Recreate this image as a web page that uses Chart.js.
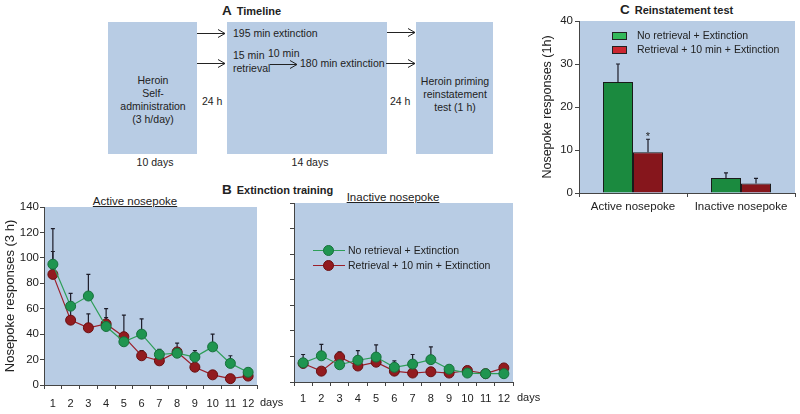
<!DOCTYPE html>
<html>
<head>
<meta charset="utf-8">
<script src="https://cdn.jsdelivr.net/npm/chart.js@4.4.1/dist/chart.umd.min.js"></script>
<style>
  body { margin:0; width:800px; height:414px; background:#fff; position:relative; overflow:hidden;
         font-family:"Liberation Sans", Arial, sans-serif; color:#222; }
  .box { position:absolute; background:#b8cce4; }
  .t { position:absolute; font-size:10.5px; line-height:13px; white-space:nowrap; }
  .c { transform:translateX(-50%); text-align:center; }
  .head { position:absolute; font-weight:bold; font-size:11px; white-space:nowrap; line-height:14px; }
  .head b { font-size:13.5px; margin-right:5px; }
  .sub { position:absolute; font-size:11.5px; text-decoration:underline; white-space:nowrap; transform:translateX(-50%); line-height:13px; }
  .leg { position:absolute; font-size:10.5px; white-space:nowrap; line-height:13px; }
  canvas { position:absolute; }
</style>
</head>
<body>

<!-- A Timeline -->
<div class="head" style="left:222px;top:4px;"><b>A</b>Timeline</div>
<div class="box" style="left:108px;top:22px;width:89px;height:132px;"></div>
<div class="box" style="left:227px;top:22px;width:160px;height:132px;"></div>
<div class="box" style="left:416px;top:22px;width:77px;height:132px;"></div>

<div class="t c" style="left:153px;top:73.5px;">Heroin<br>Self-<br>administration<br>(3 h/day)</div>
<div class="t c" style="left:455px;top:74.5px;">Heroin priming<br>reinstatement<br>test (1 h)</div>
<div class="t" style="left:233px;top:26.5px;">195 min extinction</div>
<div class="t" style="left:233px;top:48.5px;">15 min</div>
<div class="t" style="left:233px;top:61.5px;">retrieval</div>
<div class="t" style="left:268px;top:46.5px;">10 min</div>
<div class="t" style="left:300px;top:57px;">180 min extinction</div>
<div class="t" style="left:202px;top:95px;">24 h</div>
<div class="t" style="left:390px;top:95px;">24 h</div>
<div class="t c" style="left:155px;top:156px;">10 days</div>
<div class="t c" style="left:310px;top:156px;">14 days</div>

<svg width="800" height="414" style="position:absolute;left:0;top:0;pointer-events:none;">
  <g stroke="#222" stroke-width="1" fill="none">
    <path d="M197 33.5H225 M218 29.5L225 33.5L218 37.5"/>
    <path d="M197 63.5H225 M218 59.5L225 63.5L218 67.5"/>
    <path d="M270 64.5H297 M290 60.5L297 64.5L290 68.5"/>
    <path d="M387 32.5H415 M408 28.5L415 32.5L408 36.5"/>
    <path d="M386 63.5H415 M408 59.5L415 63.5L408 67.5"/>
  </g>
</svg>

<!-- B Extinction training -->
<div class="head" style="left:222px;top:183px;"><b>B</b>Extinction training</div>
<div class="sub" style="left:135px;top:195px;">Active nosepoke</div>
<div class="sub" style="left:393px;top:191px;">Inactive nosepoke</div>
<canvas id="active" width="285" height="219" style="left:0;top:195px;width:285px;height:219px;"></canvas>
<canvas id="inactive" width="290" height="223" style="left:250px;top:191px;width:290px;height:223px;"></canvas>
<div class="t" style="left:260px;top:396px;font-size:11px;">days</div>
<div class="t" style="left:517px;top:391px;font-size:11px;">days</div>

<div style="position:absolute;left:313px;top:250px;width:32px;height:1px;background:#2e9e58;"></div>
<div style="position:absolute;left:323px;top:245px;width:9px;height:9px;border-radius:50%;background:#1f9550;border:1px solid #17703c;"></div>
<div class="leg" style="left:348px;top:243.5px;">No retrieval + Extinction</div>
<div style="position:absolute;left:313px;top:265px;width:32px;height:1px;background:#9b1f2a;"></div>
<div style="position:absolute;left:323px;top:260px;width:9px;height:9px;border-radius:50%;background:#921b1f;border:1px solid #6a1012;"></div>
<div class="leg" style="left:348px;top:258.5px;">Retrieval + 10 min + Extinction</div>

<!-- C Reinstatement test -->
<div class="head" style="left:620px;top:3px;"><b>C</b>Reinstatement test</div>
<canvas id="reinst" width="270" height="220" style="left:530px;top:0;width:270px;height:220px;"></canvas>
<div style="position:absolute;left:612px;top:31.5px;width:13px;height:6px;background:#32b85a;border:1px solid #222;"></div>
<div class="leg" style="left:637px;top:28.5px;">No retrieval + Extinction</div>
<div style="position:absolute;left:612px;top:46px;width:13px;height:6px;background:#cc2630;border:1px solid #222;"></div>
<div class="leg" style="left:637px;top:43px;">Retrieval + 10 min + Extinction</div>

<script>
// extinction days
const days = ['1', '2', '3', '4', '5', '6', '7', '8', '9', '10', '11', '12'];

// active nosepoke (mean, SEM)
const activeNoRet = [95, 62, 70, 46, 34, 40, 24, 25, 22, 30, 17, 10];
const activeNoRetSem = [28, 10, 17, 14, 21, 12, 4, 3, 5, 10, 6, 2.5];
const activeRet = [87, 51, 45, 48, 38, 23, 19, 26, 14, 8, 5, 7];
const activeRetSem = [18, 14, 11, 5, 3, 4, 2, 7, 2, 1, 1, 1];

// inactive nosepoke (mean, SEM)
const inactiveNoRet = [15, 20.5, 13.5, 17, 19.5, 11.5, 14, 17.5, 10, 7, 6.5, 6.5];
const inactiveNoRetSem = [6.5, 9, 3, 7.5, 9.5, 5, 7.5, 10, 2, 1, 1, 1];
const inactiveRet = [14.5, 8.5, 19.5, 12.5, 15.5, 8.5, 7, 8, 7, 9, 6.5, 11];
const inactiveRetSem = [3, 2, 4, 2, 2, 2, 2, 2, 2, 1, 1, 1];

// reinstatement test
const testGroups = ['Active nosepoke', 'Inactive nosepoke'];
const testNoRet = [25.8, 3.5];
const testNoRetSem = [4.2, 1.2];
const testRet = [9.5, 2.2];
const testRetSem = [3, 1.2];
const testMarks = ['*', ''];

const FONT = '"Liberation Sans", Arial, sans-serif';
const AXIS = '#444';

// light blue plot background
const plotBg = {
    id: 'plotBg',
    beforeDraw(chart) {
        const { ctx, chartArea: a } = chart;
        ctx.save();
        ctx.fillStyle = '#b8cce4';
        ctx.fillRect(a.left, a.top, a.right - a.left, a.bottom - a.top);
        ctx.restore();
    }
};

// upward error bars (+ significance marks)
const errorBars = {
    id: 'errorBars',
    beforeDatasetsDraw(chart) {
        const { ctx } = chart;
        const y = chart.scales.y;
        ctx.save();
        ctx.strokeStyle = '#1c1c28';
        ctx.lineWidth = 1.2;
        chart.data.datasets.forEach((ds, i) => {
            if (!ds.sem) return;
            chart.getDatasetMeta(i).data.forEach((el, j) => {
                const base = y.getPixelForValue(ds.data[j]);
                const top = y.getPixelForValue(ds.data[j] + ds.sem[j]);
                ctx.beginPath();
                ctx.moveTo(el.x, base);
                ctx.lineTo(el.x, top);
                ctx.moveTo(el.x - 2, top);
                ctx.lineTo(el.x + 2, top);
                ctx.stroke();
                if (ds.marks && ds.marks[j]) {
                    ctx.fillStyle = '#222';
                    ctx.font = '11px ' + FONT;
                    ctx.textAlign = 'center';
                    ctx.textBaseline = 'bottom';
                    ctx.fillText(ds.marks[j], el.x, top + 3);
                }
            });
        });
        ctx.restore();
    }
};

function lineDataset(data, sem, line, fill, border) {
    return {
        data: data,
        sem: sem,
        borderColor: line,
        borderWidth: 1.2,
        pointRadius: 5,
        pointBackgroundColor: fill,
        pointBorderColor: border,
        pointBorderWidth: 1,
        tension: 0
    };
}

function dayChart(id, noRet, noRetSem, ret, retSem, showLabels, yTitle, topPad, rightPad, xHeight, labelPad) {
    return new Chart(document.getElementById(id), {
        type: 'line',
        data: {
            labels: days,
            datasets: [
                lineDataset(noRet, noRetSem, '#2e9e58', '#1f9550', '#17703c'),
                lineDataset(ret, retSem, '#9b1f2a', '#921b1f', '#6a1012')
            ]
        },
        options: {
            responsive: false,
            animation: false,
            layout: { padding: { left: 0, top: topPad, right: rightPad, bottom: 0 } },
            plugins: { legend: { display: false }, tooltip: { enabled: false } },
            scales: {
                x: {
                    offset: true,
                    border: { display: true, color: AXIS, width: 1 },
                    grid: { offset: true, drawOnChartArea: false, tickLength: 4, color: AXIS },
                    ticks: {
                        color: '#222',
                        padding: labelPad,
                        autoSkip: false,
                        maxRotation: 0,
                        minRotation: 0,
                        font: { family: FONT, size: 11 }
                    },
                    afterFit(s) { s.height = xHeight; }
                },
                y: {
                    min: 0,
                    max: 140,
                    border: { display: true, color: AXIS, width: 1 },
                    grid: { drawOnChartArea: false, tickLength: 4, color: AXIS },
                    ticks: {
                        stepSize: 20,
                        color: '#222',
                        padding: 1,
                        font: { family: FONT, size: 11.5 },
                        callback: v => showLabels ? v : ''
                    },
                    title: {
                        display: !!yTitle,
                        text: yTitle,
                        color: '#222',
                        padding: { top: 3, bottom: 0 },
                        font: { family: FONT, size: 13 }
                    },
                    afterFit(s) { s.width = 44; }
                }
            }
        },
        plugins: [plotBg, errorBars]
    });
}

dayChart('active', activeNoRet, activeNoRetSem, activeRet, activeRetSem, true,
    'Nosepoke responses (3 h)', 12, 28, 29, 8);
dayChart('inactive', inactiveNoRet, inactiveNoRetSem, inactiveRet, inactiveRetSem, false,
    '', 12, 27, 32, 6);

new Chart(document.getElementById('reinst'), {
    type: 'bar',
    data: {
        labels: testGroups,
        datasets: [
            { data: testNoRet, sem: testNoRetSem, backgroundColor: '#1b8a3f', borderColor: '#1a1a1a', borderWidth: 1 },
            { data: testRet, sem: testRetSem, marks: testMarks, backgroundColor: '#86161c', borderColor: '#1a1a1a', borderWidth: 1 }
        ]
    },
    options: {
        responsive: false,
        animation: false,
        layout: { padding: { left: 6, top: 21, right: 5, bottom: 0 } },
        plugins: { legend: { display: false }, tooltip: { enabled: false } },
        datasets: { bar: { categoryPercentage: 0.556, barPercentage: 1 } },
        scales: {
            x: {
                border: { display: true, color: AXIS, width: 1 },
                grid: { offset: true, drawOnChartArea: false, tickLength: 4, color: AXIS },
                ticks: { color: '#222', padding: 3, font: { family: FONT, size: 11.5 } },
                afterFit(s) { s.height = 27; }
            },
            y: {
                min: 0,
                max: 40,
                border: { display: true, color: AXIS, width: 1 },
                grid: { drawOnChartArea: false, tickLength: 4, color: AXIS },
                ticks: { stepSize: 10, color: '#222', padding: 2, font: { family: FONT, size: 11.5 } },
                title: {
                    display: true,
                    text: 'Nosepoke responses (1h)',
                    color: '#222',
                    padding: { top: 4, bottom: 0 },
                    font: { family: FONT, size: 12.5 }
                },
                afterFit(s) { s.width = 43; }
            }
        }
    },
    plugins: [plotBg, errorBars]
});
</script>
</body>
</html>
